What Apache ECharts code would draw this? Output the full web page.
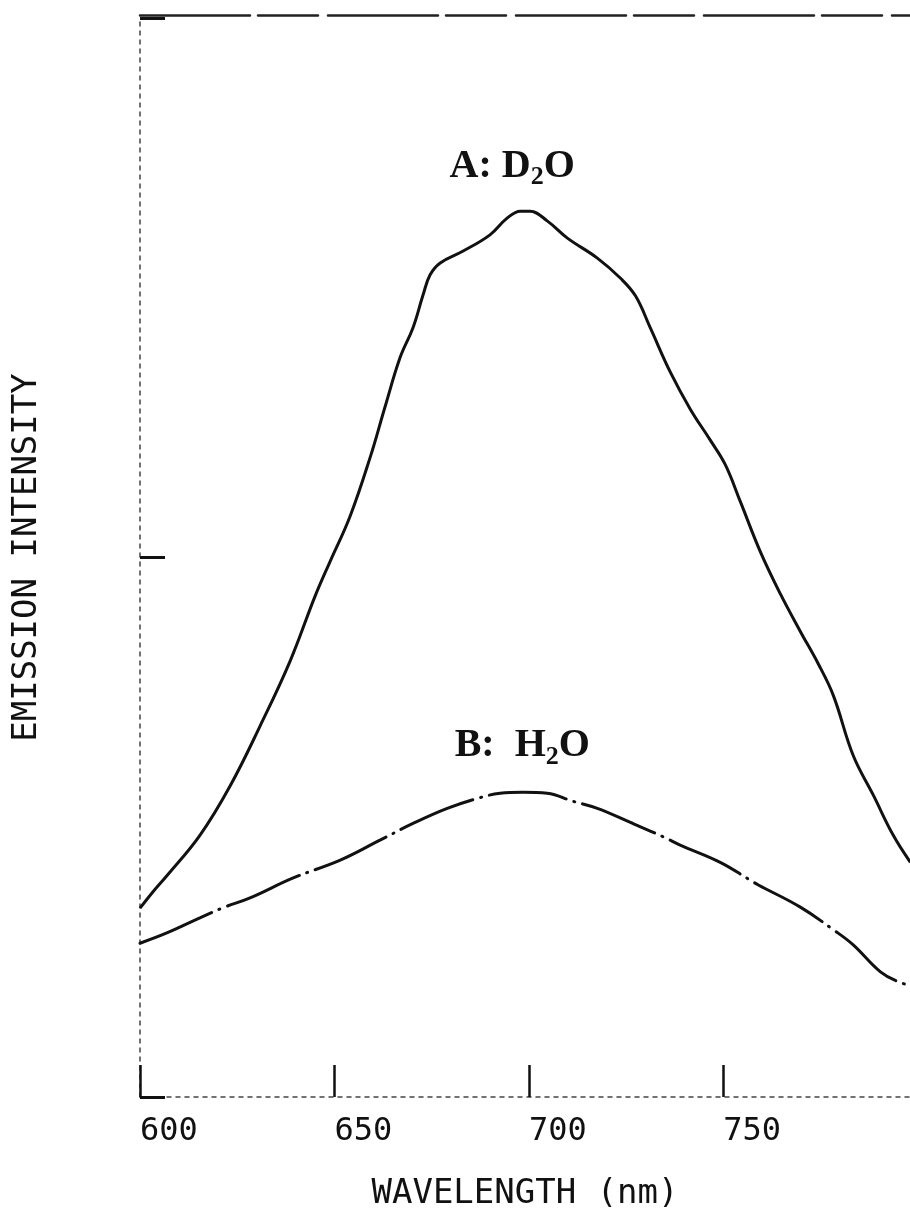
<!DOCTYPE html>
<html>
<head>
<meta charset="utf-8">
<script src="https://cdn.jsdelivr.net/npm/echarts@6/dist/echarts.min.js"></script>
<style>
  html, body { margin: 0; padding: 0; background: #fff; }
  #chart { width: 910px; height: 1216px; }
</style>
</head>
<body>
<div id="chart"></div>
<script>
// Emission spectra: wavelength (nm) vs. emission intensity (arbitrary units)
const wavelengthTicks = [600, 650, 700, 750];

const d2oWavelength = [600, 603.3, 606.9, 615.4, 623.2, 630.9, 638.6, 645, 648.9, 654, 659.2, 663, 666.9, 670.2, 672.8, 674.6, 677.2, 683.1, 690, 694.4, 697.8, 700.3, 704.7, 709.9, 717.6, 723.5, 727.4, 731.2, 736.4, 741.5, 746.6, 750.5, 754.4, 759.5, 764.7, 769.8, 774.4, 778.3, 783.4, 788.6, 793.7, 798.1];
const d2oIntensity = [0.35, 0.38, 0.41, 0.485, 0.577, 0.688, 0.808, 0.928, 0.993, 1.076, 1.186, 1.279, 1.371, 1.426, 1.487, 1.524, 1.546, 1.568, 1.598, 1.629, 1.642, 1.642, 1.624, 1.592, 1.555, 1.518, 1.485, 1.426, 1.343, 1.275, 1.218, 1.172, 1.103, 1.011, 0.932, 0.863, 0.803, 0.744, 0.633, 0.559, 0.485, 0.435];

const h2oWavelength = [600, 606.9, 615.4, 621.4, 628.3, 639.4, 651.5, 661.7, 670.2, 679.0, 687.5, 692.6, 698.5, 704.7, 711.4, 717.6, 726.1, 734.6, 738.9, 749.2, 756.9, 759.0, 769.8, 778.3, 783.4, 790.4, 795.5, 798.1];
const h2oIntensity = [0.285, 0.304, 0.332, 0.351, 0.369, 0.406, 0.439, 0.476, 0.507, 0.535, 0.555, 0.563, 0.565, 0.563, 0.548, 0.535, 0.509, 0.482, 0.467, 0.435, 0.402, 0.393, 0.352, 0.310, 0.282, 0.232, 0.212, 0.208];

const zip = (xs, ys) => xs.map((x, i) => [x, ys[i]]);

const monoFont = '"DejaVu Sans Mono", "Liberation Mono", monospace';
const serifFont = '"Liberation Serif", "DejaVu Serif", serif';
const ink = '#111';

const labelRich = {
  t: { fontFamily: serifFont, fontWeight: 'bold', fontSize: 40, color: ink, lineHeight: 48 },
  s: { fontFamily: serifFont, fontWeight: 'bold', fontSize: 26, color: ink, lineHeight: 44, verticalAlign: 'bottom' }
};

const chart = echarts.init(document.getElementById('chart'), null, { renderer: 'canvas' });

chart.setOption({
  backgroundColor: '#fff',
  animation: false,
  grid: { left: 140, right: 0, top: 18, bottom: 113, containLabel: false },
  xAxis: [
    {
      type: 'value',
      min: 600,
      max: 798,
      interval: 50,
      name: 'WAVELENGTH (nm)',
      nameLocation: 'middle',
      nameGap: 80,
      nameTextStyle: { fontFamily: monoFont, fontSize: 34, color: ink },
      axisLine: { show: true, lineStyle: { color: '#444', width: 1.5, type: [4, 5] } },
      axisTick: { show: true, inside: true, length: 32, customValues: wavelengthTicks, lineStyle: { color: ink, width: 2.5 } },
      axisLabel: {
        show: true,
        align: 'left',
        margin: 19,
        fontFamily: monoFont,
        fontSize: 32,
        color: ink,
        customValues: wavelengthTicks,
        formatter: (v) => (wavelengthTicks.includes(v) ? String(v) : '')
      },
      splitLine: { show: false }
    },
    {
      type: 'value',
      position: 'top',
      min: 600,
      max: 798,
      offset: 3,
      axisLine: { show: true, lineStyle: { color: '#222', width: 2.5, type: [110, 8, 60, 10] } },
      axisTick: { show: false },
      axisLabel: { show: false },
      splitLine: { show: false }
    }
  ],
  yAxis: {
    type: 'value',
    min: 0,
    max: 2,
    interval: 1,
    name: 'EMISSION INTENSITY',
    nameLocation: 'middle',
    nameGap: 96,
    nameRotate: 90,
    nameTextStyle: { fontFamily: monoFont, fontSize: 34, color: ink },
    axisLine: { show: true, lineStyle: { color: '#444', width: 1.5, type: [4, 5] } },
    axisTick: { show: true, inside: true, length: 25, lineStyle: { color: ink, width: 3 } },
    axisLabel: { show: false },
    splitLine: { show: false }
  },
  series: [
    {
      name: 'A: D2O',
      type: 'line',
      data: zip(d2oWavelength, d2oIntensity),
      smooth: 0.4,
      showSymbol: false,
      clip: true,
      lineStyle: { color: ink, width: 3 },
      markPoint: {
        symbol: 'circle',
        symbolSize: 0,
        data: [{ coord: [695.7, 1.725] }],
        label: {
          show: true,
          position: 'inside',
          formatter: '{t|A: D}{s|2}{t|O}',
          rich: labelRich
        }
      }
    },
    {
      name: 'B: H2O',
      type: 'line',
      data: zip(h2oWavelength, h2oIntensity),
      smooth: 0.4,
      showSymbol: false,
      clip: true,
      lineStyle: { color: ink, width: 3, type: [78, 8, 1, 8], cap: 'round' },
      markPoint: {
        symbol: 'circle',
        symbolSize: 0,
        data: [{ coord: [698.3, 0.651] }],
        label: {
          show: true,
          position: 'inside',
          formatter: '{t|B:  H}{s|2}{t|O}',
          rich: labelRich
        }
      }
    }
  ]
});
</script>
</body>
</html>
